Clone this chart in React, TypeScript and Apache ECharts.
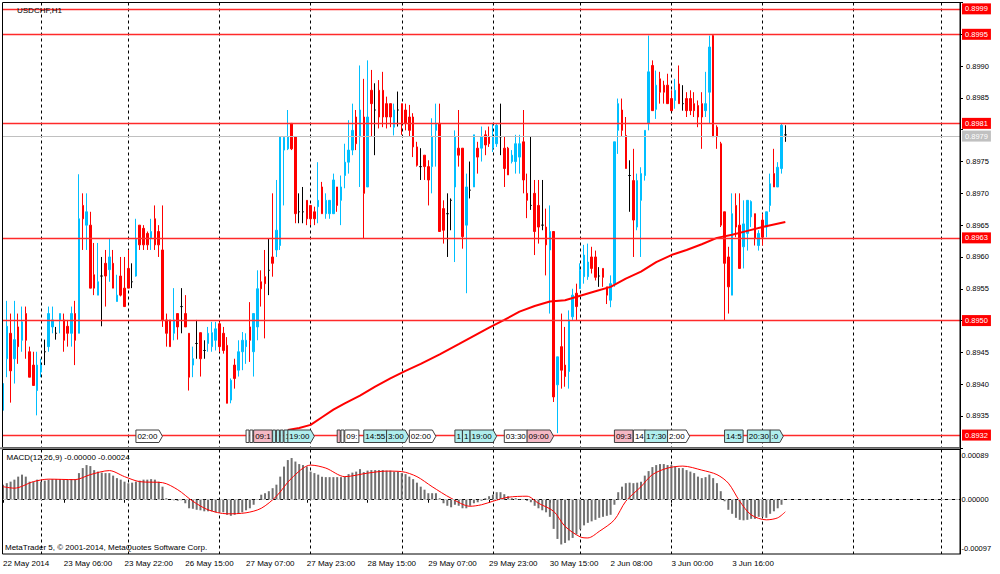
import React, { useEffect, useRef } from "react";
import * as echarts from "echarts";

const FONT = "Liberation Sans";

// time axis
const tickLabels = ["22 May 2014", "23 May 06:00", "23 May 22:00", "26 May 15:00", "27 May 07:00", "27 May 23:00", "28 May 15:00", "29 May 07:00", "29 May 23:00", "30 May 15:00", "2 Jun 08:00", "3 Jun 00:00", "3 Jun 16:00"];
const labelStep = 16;
const gridBars = [10, 33, 57, 81, 105, 129, 152, 176, 200, 224, 247];
const slotCount = 253;

// USDCHF H1 candles
const open = [
  0.89359, 0.8944, 0.8948, 0.8944, 0.8949, 0.89469, 0.89511, 0.89451, 0.8943, 0.8939,
  0.89419, 0.89451, 0.89459, 0.8949, 0.8948, 0.89501, 0.89501, 0.89491, 0.8948, 0.89511,
  0.8948, 0.89681, 0.8965, 0.8965, 0.89572, 0.8954, 0.8957, 0.8959, 0.8958, 0.8959,
  0.8953, 0.8957, 0.89551, 0.89582, 0.89561, 0.8957, 0.8965, 0.89645, 0.89637, 0.89629,
  0.8966, 0.8964, 0.89611, 0.89501, 0.89501, 0.8948, 0.89511, 0.89522, 0.89511, 0.8948,
  0.8943, 0.89464, 0.89481, 0.89453, 0.89464, 0.89459, 0.89469, 0.89495, 0.8948, 0.89461,
  0.89375, 0.8943, 0.89422, 0.89451, 0.89459, 0.8949, 0.89451, 0.8949, 0.89561, 0.89569,
  0.89579, 0.896, 0.89611, 0.89618, 0.89768, 0.8977, 0.8981, 0.89789, 0.89671, 0.89671,
  0.89689, 0.89681, 0.89671, 0.89679, 0.8971, 0.89668, 0.89668, 0.89668, 0.8971, 0.89689,
  0.89728, 0.89749, 0.89768, 0.8982, 0.89789, 0.8982, 0.8971, 0.89862, 0.89831, 0.89862,
  0.89862, 0.89841, 0.89841, 0.89804, 0.89831, 0.89841, 0.89831, 0.8982, 0.8982, 0.89773,
  0.89742, 0.8976, 0.89742, 0.89742, 0.89799, 0.8981, 0.89676, 0.89668, 0.89689, 0.8971,
  0.89771, 0.89771, 0.8965, 0.89705, 0.8971, 0.89771, 0.89771, 0.89792, 0.89789, 0.89771,
  0.89778, 0.89789, 0.89771, 0.89771, 0.8975, 0.8975, 0.89757, 0.89781, 0.897, 0.89681,
  0.897, 0.89681, 0.8965, 0.89647, 0.89611, 0.8964, 0.89399, 0.89459, 0.8943, 0.8942,
  0.89506, 0.89543, 0.8955, 0.89569, 0.89569, 0.896, 0.896, 0.8957, 0.89582, 0.89553,
  0.89532, 0.89558, 0.89799, 0.89831, 0.89791, 0.89728, 0.8972, 0.89647, 0.89689, 0.89728,
  0.8981, 0.89901, 0.89832, 0.8988, 0.8987, 0.8987, 0.89849, 0.89846, 0.89872, 0.89841,
  0.89849, 0.89849, 0.89841, 0.89838, 0.89841, 0.8983, 0.89859, 0.89948, 0.89804, 0.89778,
  0.89671, 0.896, 0.8954, 0.89681, 0.8965, 0.89616, 0.89637, 0.89663, 0.89668, 0.89618,
  0.89658, 0.89647, 0.89681, 0.89731, 0.8971, 0.89739, 0.89792,
];
const high = [
  0.89422, 0.89531, 0.89511, 0.89531, 0.89511, 0.89522, 0.89522, 0.89459, 0.89451, 0.89451,
  0.8944, 0.8947, 0.89522, 0.89522, 0.8949, 0.89511, 0.89511, 0.89501, 0.89522, 0.89531,
  0.8973, 0.897, 0.897, 0.89671, 0.89622, 0.89622, 0.896, 0.89611, 0.89629, 0.89611,
  0.89572, 0.896, 0.896, 0.89611, 0.8959, 0.8966, 0.8965, 0.8965, 0.8964, 0.8966,
  0.89681, 0.8965, 0.89681, 0.89511, 0.89501, 0.89551, 0.89511, 0.89551, 0.8954, 0.8948,
  0.89459, 0.89501, 0.89481, 0.89469, 0.8949, 0.89498, 0.89498, 0.89498, 0.8949, 0.89474,
  0.89409, 0.8944, 0.89469, 0.89482, 0.8948, 0.89529, 0.89511, 0.89579, 0.89579, 0.89611,
  0.89629, 0.897, 0.89721, 0.89789, 0.89789, 0.89831, 0.8981, 0.89789, 0.897, 0.8971,
  0.89689, 0.89681, 0.89679, 0.89749, 0.89718, 0.897, 0.89689, 0.89731, 0.8971, 0.89728,
  0.89778, 0.89815, 0.89841, 0.89831, 0.89901, 0.8988, 0.89909, 0.89894, 0.89873, 0.89878,
  0.89891, 0.89852, 0.89841, 0.89841, 0.8986, 0.89841, 0.89841, 0.89839, 0.89826, 0.89781,
  0.89771, 0.8976, 0.89752, 0.89818, 0.89841, 0.89841, 0.89689, 0.897, 0.89692, 0.89799,
  0.89831, 0.89771, 0.89731, 0.8975, 0.89792, 0.89781, 0.89805, 0.89799, 0.89805, 0.8981,
  0.8981, 0.89841, 0.89789, 0.89773, 0.89768, 0.89792, 0.89792, 0.89831, 0.89731, 0.89789,
  0.89721, 0.89721, 0.89721, 0.89676, 0.89681, 0.8964, 0.89443, 0.89511, 0.8949, 0.89516,
  0.8955, 0.89558, 0.8959, 0.89619, 0.89621, 0.89616, 0.8961, 0.89584, 0.89582, 0.89553,
  0.89571, 0.89781, 0.89849, 0.89849, 0.8982, 0.89752, 0.8977, 0.89731, 0.89741, 0.89799,
  0.89948, 0.89909, 0.89893, 0.89891, 0.89877, 0.89888, 0.89862, 0.8988, 0.89901, 0.8987,
  0.89859, 0.89862, 0.89859, 0.89846, 0.89859, 0.89891, 0.89948, 0.8995, 0.89807, 0.89781,
  0.89671, 0.89616, 0.897, 0.897, 0.897, 0.89689, 0.89689, 0.89689, 0.89668, 0.89642,
  0.89668, 0.89671, 0.89731, 0.8977, 0.89749, 0.8981, 0.89807,
];
const low = [
  0.89332, 0.89411, 0.89371, 0.89401, 0.89432, 0.89451, 0.8944, 0.89411, 0.89398, 0.89351,
  0.89411, 0.8943, 0.89451, 0.8948, 0.8947, 0.8948, 0.89451, 0.89459, 0.89459, 0.8943,
  0.8948, 0.89611, 0.89611, 0.89551, 0.8954, 0.8954, 0.89491, 0.89522, 0.89561, 0.89551,
  0.8953, 0.89538, 0.89522, 0.89551, 0.89551, 0.89569, 0.89611, 0.89611, 0.89611, 0.89611,
  0.89611, 0.896, 0.8949, 0.89459, 0.89459, 0.89469, 0.8947, 0.8948, 0.8949, 0.8939,
  0.89411, 0.8944, 0.89412, 0.8944, 0.89451, 0.89451, 0.89453, 0.89451, 0.89448, 0.8937,
  0.8937, 0.89393, 0.89412, 0.89422, 0.89432, 0.89435, 0.89412, 0.89469, 0.89522, 0.89472,
  0.8954, 0.89569, 0.896, 0.89611, 0.89681, 0.89768, 0.89768, 0.89653, 0.89653, 0.89653,
  0.8965, 0.8965, 0.8965, 0.89653, 0.89668, 0.8966, 0.8966, 0.89668, 0.89671, 0.8965,
  0.89708, 0.89731, 0.8976, 0.89768, 0.8971, 0.89629, 0.8971, 0.89789, 0.8976, 0.89802,
  0.89804, 0.89802, 0.89804, 0.89791, 0.89805, 0.89792, 0.89799, 0.89789, 0.89757, 0.89742,
  0.89721, 0.89721, 0.89681, 0.897, 0.89742, 0.8964, 0.89621, 0.896, 0.89642, 0.89592,
  0.89742, 0.89613, 0.89543, 0.89692, 0.8971, 0.89731, 0.8975, 0.8976, 0.89773, 0.89765,
  0.89773, 0.8976, 0.8971, 0.89729, 0.89747, 0.89731, 0.89731, 0.897, 0.89661, 0.89674,
  0.89603, 0.89621, 0.89642, 0.89571, 0.89511, 0.89372, 0.89323, 0.89393, 0.89396, 0.89393,
  0.89501, 0.89501, 0.8955, 0.89558, 0.89564, 0.89574, 0.89563, 0.89553, 0.89553, 0.89526,
  0.89521, 0.89553, 0.89762, 0.89789, 0.89739, 0.89671, 0.896, 0.89642, 0.896, 0.8972,
  0.89799, 0.8983, 0.89817, 0.89841, 0.89841, 0.89841, 0.8983, 0.89833, 0.89841, 0.8983,
  0.8982, 0.89823, 0.8982, 0.89804, 0.8977, 0.8982, 0.8981, 0.89789, 0.8977, 0.89647,
  0.895, 0.89511, 0.8954, 0.89631, 0.89582, 0.89582, 0.8961, 0.89647, 0.89618, 0.8961,
  0.89618, 0.89631, 0.89671, 0.8971, 0.8971, 0.89731, 0.89781,
];
const close = [
  0.89401, 0.89491, 0.89421, 0.8947, 0.89459, 0.89498, 0.89469, 0.89411, 0.89398, 0.8943,
  0.8943, 0.89451, 0.89511, 0.89501, 0.8948, 0.89511, 0.89469, 0.8948, 0.89511, 0.89469,
  0.8966, 0.8966, 0.89671, 0.89551, 0.89551, 0.89561, 0.8957, 0.8957, 0.896, 0.89551,
  0.8954, 0.8954, 0.89522, 0.89551, 0.89561, 0.89629, 0.89619, 0.89619, 0.89619, 0.8964,
  0.89619, 0.89619, 0.89501, 0.8948, 0.89459, 0.89501, 0.8949, 0.89522, 0.8949, 0.89411,
  0.8944, 0.89464, 0.8944, 0.89453, 0.8948, 0.89481, 0.89487, 0.89459, 0.89453, 0.8937,
  0.89406, 0.89409, 0.89451, 0.89469, 0.89469, 0.89469, 0.89511, 0.8955, 0.8955, 0.89558,
  0.89579, 0.8959, 0.89642, 0.89789, 0.89788, 0.89789, 0.8977, 0.89668, 0.89671, 0.89671,
  0.8966, 0.8966, 0.8966, 0.89689, 0.89668, 0.89689, 0.89689, 0.89721, 0.89681, 0.8971,
  0.89749, 0.89768, 0.89799, 0.89778, 0.89831, 0.897, 0.8982, 0.89841, 0.89831, 0.8982,
  0.8982, 0.8982, 0.8982, 0.89831, 0.89831, 0.8981, 0.8981, 0.89799, 0.89773, 0.89744,
  0.89742, 0.89742, 0.89721, 0.89789, 0.8981, 0.8964, 0.89642, 0.89668, 0.89689, 0.89789,
  0.8976, 0.89632, 0.8971, 0.89705, 0.89792, 0.89757, 0.89789, 0.89776, 0.89778, 0.89789,
  0.89807, 0.89789, 0.89739, 0.89729, 0.8976, 0.89778, 0.89778, 0.89721, 0.89689, 0.89681,
  0.8964, 0.89647, 0.8965, 0.89619, 0.8964, 0.8938, 0.89443, 0.89422, 0.89412, 0.89501,
  0.8954, 0.89522, 0.89579, 0.89603, 0.89592, 0.89582, 0.89568, 0.8957, 0.89568, 0.8954,
  0.89558, 0.89781, 0.89841, 0.89799, 0.89739, 0.89728, 0.89658, 0.8972, 0.89731, 0.89799,
  0.89891, 0.8983, 0.8987, 0.89859, 0.89859, 0.89841, 0.8983, 0.89862, 0.89841, 0.89841,
  0.8983, 0.8983, 0.8983, 0.8982, 0.8982, 0.89841, 0.8993, 0.89789, 0.89789, 0.8965,
  0.8959, 0.89553, 0.89668, 0.89647, 0.89582, 0.89652, 0.89689, 0.89687, 0.89629, 0.89637,
  0.89631, 0.89671, 0.89715, 0.8971, 0.89741, 0.89807, 0.89792,
];

// moving average readings (bar index -> value)
const maBars = [75, 78, 81, 84, 87, 90, 94, 98, 102, 106, 110, 115, 120, 124, 128, 132, 136, 140, 144, 148, 152, 156, 160, 164, 168, 172, 176, 180, 184, 188, 192, 196, 200, 206];
const maValues = [0.89328, 0.89331, 0.89336, 0.89348, 0.8936, 0.8937, 0.89382, 0.89396, 0.89409, 0.89421, 0.89432, 0.89447, 0.89463, 0.89476, 0.89489, 0.89501, 0.89514, 0.89523, 0.8953, 0.89532, 0.89539, 0.89546, 0.89553, 0.89566, 0.89577, 0.89592, 0.89603, 0.89611, 0.8962, 0.8963, 0.89635, 0.89641, 0.89647, 0.89655];

// horizontal levels
const levels = [0.8999, 0.8995, 0.8981, 0.8963, 0.895, 0.8932];
const bidPrice = 0.8979;

// MACD
const macdHist = [
  0.0003, 0.00033, 0.00036, 0.0004, 0.00046, 0.0005, 0.00046, 0.00036, 0.00036, 0.0004, 0.00036, 0.00038, 0.0004, 0.00041, 0.00041, 0.00041, 0.0004, 0.0004, 0.00041, 0.00041,
  0.00053, 0.00063, 0.00069, 0.00067, 0.00059, 0.00056, 0.00054, 0.00053, 0.00053, 0.00048, 0.00043, 0.0004, 0.00036, 0.00033, 0.00034, 0.00036, 0.00038, 0.0004, 0.0004, 0.00041,
  0.0004, 0.00036, 0.00026, 0.00003, 0.0, -0.00001, -0.00002, -0.00001, -0.00007, -0.00017, -0.00018, -0.0002, -0.00021, -0.00023, -0.00023, -0.00023, -0.00025, -0.00025, -0.00025, -0.0003,
  -0.00032, -0.0003, -0.00028, -0.00025, -0.00021, -0.00017, -0.0001, 0.0, 0.0001, 0.00013, 0.00017, 0.00023, 0.0003, 0.00046, 0.00066, 0.00079, 0.00083, 0.00076, 0.00071, 0.00069,
  0.00066, 0.00056, 0.00053, 0.0005, 0.00046, 0.00045, 0.00045, 0.00045, 0.00045, 0.00045, 0.00046, 0.00051, 0.00054, 0.00056, 0.00061, 0.00055, 0.00058, 0.00059, 0.00059, 0.00059,
  0.00059, 0.00058, 0.00058, 0.00056, 0.00056,
  0.00053, 0.00051, 0.00046, 0.00041, 0.00034, 0.00026, 0.0002, 0.00013, 0.00013, 0.00013,
  0.00003, -0.00007, -0.00012, -0.00015, -0.0001, -0.00012, -0.00017, -0.00017, -0.00012, -0.00007,
  -0.00005, -0.00002, 0.00003, 0.00007, 0.0001, 0.00015, 0.00015, 0.00011, 0.00007, 0.00003,
  0.00003, 0.00001, 0.00001, -0.00002, -0.00005, -0.00012, -0.00017, -0.00021, -0.00025, -0.00034,
  -0.00058, -0.00078, -0.00089, -0.00086, -0.00081, -0.00076, -0.00069, -0.00059, -0.00051, -0.00046,
  -0.00043, -0.0004, -0.00036, -0.00034, -0.00032, -0.0003, -0.0001, 0.00015, 0.00026, 0.00033,
  0.00034, 0.00033, 0.00034, 0.00036, 0.00048, 0.00057, 0.00065, 0.00069, 0.00071, 0.00071,
  0.00069, 0.00069, 0.00066, 0.00063, 0.00063, 0.00059, 0.00056, 0.00053, 0.00046, 0.00043,
  0.00045, 0.0005, 0.00043, 0.00033, 0.00017, -0.00003, -0.0002, -0.00028, -0.00036, -0.0004,
  -0.00041, -0.0004, -0.00038, -0.00038, -0.00034, -0.00034, -0.00036, -0.00028, -0.00023, -0.00017,
  -0.0001, 0.0,
];
const signalBars = [0, 3, 8, 12, 19, 23, 28, 32, 36, 42, 46, 50, 54, 59, 64, 68, 72, 76, 81, 85, 90, 96, 101, 105, 109, 113, 118, 123, 126, 129, 133, 138, 141, 145, 148, 152, 154, 157, 161, 164, 168, 171, 175, 179, 184, 188, 191, 194, 197, 201, 204, 206];
const signalValues = [0.00026, 0.00023, 0.00036, 0.00041, 0.0004, 0.0005, 0.00058, 0.00046, 0.00036, 0.00034, 0.0002, -0.00003, -0.0002, -0.00028, -0.00026, -0.00017, 0.00007, 0.00043, 0.00069, 0.00063, 0.00046, 0.00053, 0.00057, 0.00056, 0.00046, 0.00026, 0.00003, -0.00013, -0.0001, -0.00003, 0.00005, 0.00007, -0.00007, -0.00023, -0.00053, -0.00074, -0.00076, -0.00063, -0.0004, -0.00003, 0.00026, 0.0005, 0.00063, 0.00067, 0.00059, 0.0005, 0.00033, -0.00003, -0.0003, -0.0004, -0.00036, -0.00024];
const macdLabels = [0.00089, 0, -0.00097];

// calendar events at the bottom of the price window
const eventBars = [35, 64, 65, 66, 71, 72, 73, 74, 75, 88, 89, 90, 95, 101, 107, 119, 121, 123, 132, 138, 161, 166, 169, 175, 190, 196, 202];
const eventTexts = ["02:00", "", "", "09:1", "", "", "", "1", "19:00", "", "", "09:", "14:55", "3:00", "02:00", "1", "1", "19:00", "03:30", "09:00", "09:3", "14", "17:30", "2:00", "14:5", "20:30", ":0"];
const eventKinds = ["w", "w", "w", "p", "c", "c", "c", "c", "c", "p", "w", "w", "c", "c", "w", "c", "c", "c", "w", "p", "p", "w", "c", "w", "c", "c", "c"];
const eventArrows = [1, 0, 0, 0, 0, 0, 0, 0, 1, 0, 0, 0, 0, 1, 1, 0, 0, 1, 0, 1, 0, 0, 0, 1, 0, 0, 1];

const kindFill: Record<string, string> = { w: "#ffffff", c: "#b0eeee", p: "#f5b8c4" };

function textW(s: string) {
  let w = 0;
  for (const c of s) w += c === ":" ? 2.22 : 4.45;
  return w;
}

export default function App() {
  const ref = useRef<HTMLDivElement>(null);

  useEffect(() => {
    const el = ref.current!;
    const chart = echarts.init(el, null, { renderer: "svg" });

    const categories = Array.from({ length: slotCount }, (_, i) => String(i));
    const labelShown = (i: number) => i % labelStep === 0 && i / labelStep < tickLabels.length;
    const gridShown = (i: number) => gridBars.indexOf(i) >= 0;

    const candleData = open.map((o, i) => [o, close[i], low[i], high[i]]);
    const maData: (number | null)[] = open.map(() => null);
    maBars.forEach((b, k) => (maData[b] = maValues[k]));
    const sigData: (number | null)[] = open.map(() => null);
    signalBars.forEach((b, k) => (sigData[b] = signalValues[k]));

    const font8 = `8px "${FONT}"`;
    const hiddenY = ["0.8930", "0.8950", "0.8980", "0.8995", "0.9000"];

    const splitV = {
      show: true,
      interval: gridShown,
      lineStyle: { color: "#000", type: [3, 3], width: 1 },
    };

    const option: any = {
      animation: false,
      backgroundColor: "#ffffff",
      textStyle: { fontFamily: FONT },
      grid: [
        { left: 3, right: 40, top: 2.5, height: 445.3 },
        { left: 3, right: 40, top: 449.5, height: 104.5 },
      ],
      xAxis: [
        {
          type: "category",
          gridIndex: 0,
          data: categories,
          boundaryGap: false,
          axisLine: { show: false },
          axisTick: { show: false },
          axisLabel: { show: false },
          splitLine: splitV,
        },
        {
          type: "category",
          gridIndex: 1,
          data: categories,
          boundaryGap: false,
          axisLine: { show: true, lineStyle: { color: "#000" } },
          axisTick: { show: true, interval: labelShown, length: 3, lineStyle: { color: "#000" } },
          axisLabel: {
            show: true,
            interval: labelShown,
            formatter: (_v: string, i: number) => tickLabels[i / labelStep] ?? "",
            align: "left",
            fontSize: 8,
            color: "#000",
            margin: 5,
          },
          splitLine: splitV,
        },
      ],
      yAxis: [
        {
          type: "value",
          gridIndex: 0,
          position: "right",
          min: 0.893,
          max: 0.9,
          interval: 0.0005,
          axisLine: { show: true, lineStyle: { color: "#000" } },
          axisTick: { show: true, length: 3, lineStyle: { color: "#000" } },
          axisLabel: {
            fontSize: 7.5,
            color: "#000",
            margin: 6,
            formatter: (v: number) => {
              const s = v.toFixed(4);
              return hiddenY.indexOf(s) >= 0 ? "" : s;
            },
          },
          splitLine: { show: false },
        },
        {
          type: "value",
          gridIndex: 1,
          position: "right",
          min: -0.00108,
          max: 0.001,
          axisLine: { show: true, lineStyle: { color: "#000" } },
          axisTick: { show: false },
          axisLabel: { show: false },
          splitLine: { show: false },
        },
      ],
      series: [
        {
          type: "candlestick",
          xAxisIndex: 0,
          yAxisIndex: 0,
          data: candleData,
          barWidth: 2,
          itemStyle: {
            color: "#00bfff",
            color0: "#ff0000",
            borderColor: "#00bfff",
            borderColor0: "#ff0000",
            borderColorDoji: "#000000",
            borderWidth: 1,
          },
          z: 3,
        },
        {
          type: "line",
          xAxisIndex: 0,
          yAxisIndex: 0,
          data: maData,
          connectNulls: true,
          symbol: "none",
          showSymbol: false,
          clip: false,
          lineStyle: { color: "#ff0000", width: 2 },
          z: 4,
          markLine: {
            silent: true,
            precision: 6,
            symbol: ["none", "none"],
            animation: false,
            label: {
              show: true,
              position: "end",
              distance: 2,
              color: "#ffffff",
              backgroundColor: "#ff0000",
              padding: [2, 3, 1, 3],
              fontSize: 7.5,
              fontFamily: FONT,
            },
            data: [
              {
                yAxis: bidPrice,
                lineStyle: { color: "#c0c0c0", width: 1, type: "solid" },
                label: { formatter: bidPrice.toFixed(4), backgroundColor: "#c0c0c0" },
              },
              ...levels.map((v) => ({
                yAxis: v,
                lineStyle: { color: "#ff2a2a", width: 1.3, type: "solid" },
                label: { formatter: v.toFixed(4) },
              })),
            ],
          },
        },
        {
          type: "custom",
          xAxisIndex: 0,
          yAxisIndex: 0,
          clip: false,
          z: 5,
          data: eventBars.map((b) => [b, levels[5]]),
          encode: { x: 0, y: 1 },
          renderItem: (params: any, api: any) => {
            const k = params.dataIndex;
            const x = api.coord([eventBars[k], levels[5]])[0];
            const cs = params.coordSys;
            const y = cs.y + cs.height - 17.8;
            const h = 12.5;
            const txt = eventTexts[k];
            const w = txt ? textW(txt) + 3 : 3;
            const pts = eventArrows[k]
              ? [[x, y], [x + w, y], [x + w + 3.5, y + h / 2], [x + w, y + h], [x, y + h]]
              : [[x, y], [x + w, y], [x + w, y + h], [x, y + h]];
            return {
              type: "group",
              children: [
                {
                  type: "polygon",
                  shape: { points: pts },
                  style: { fill: kindFill[eventKinds[k]], stroke: "#404040", lineWidth: 1 },
                },
                {
                  type: "text",
                  style: { text: txt, x: x + 1.5, y: y + h / 2 + 0.5, verticalAlign: "middle", fill: "#000", font: font8 },
                },
              ],
            };
          },
        },
        {
          type: "bar",
          xAxisIndex: 1,
          yAxisIndex: 1,
          data: macdHist,
          barWidth: 2,
          itemStyle: { color: "#707070" },
          z: 2,
          markLine: {
            silent: true,
            precision: 8,
            symbol: ["none", "none"],
            animation: false,
            label: { show: true, position: "end", distance: 1.5, color: "#000", fontSize: 7.5, fontFamily: FONT },
            data: macdLabels.map((v) => ({
              yAxis: v,
              lineStyle: v === 0 ? { color: "#c0c0c0", type: [4, 3], width: 1 } : { color: "rgba(0,0,0,0)", width: 0 },
              label: { formatter: v === 0 ? "0.00000" : v.toFixed(5), color: "#000" },
            })),
          },
        },
        {
          type: "line",
          xAxisIndex: 1,
          yAxisIndex: 1,
          data: sigData,
          connectNulls: true,
          smooth: 0.3,
          symbol: "none",
          showSymbol: false,
          lineStyle: { color: "#ff0000", width: 1 },
          z: 3,
        },
      ],
      graphic: [
        { type: "rect", silent: true, z: 100, shape: { x: 2.5, y: 2.5, width: 957.5, height: 445 }, style: { fill: "none", stroke: "#000", lineWidth: 1 } },
        { type: "line", silent: true, z: 100, shape: { x1: 0, y1: 448.3, x2: 960, y2: 448.3 }, style: { stroke: "#808080", lineWidth: 2 } },
        { type: "rect", silent: true, z: 100, shape: { x: 2.5, y: 449.5, width: 957.5, height: 104.5 }, style: { fill: "none", stroke: "#000", lineWidth: 1 } },
        { type: "text", silent: true, z: 100, x: 17, y: 10, style: { text: "USDCHF,H1", font: font8, fill: "#000", verticalAlign: "middle" } },
        { type: "text", silent: true, z: 100, x: 6.5, y: 457.5, style: { text: "MACD(12,26,9) -0.00000 -0.00024", font: font8, fill: "#000", verticalAlign: "middle" } },
        { type: "text", silent: true, z: 100, x: 5, y: 547.5, style: { text: "MetaTrader 5, © 2001-2014, MetaQuotes Software Corp.", font: font8, fill: "#000", verticalAlign: "middle" } },
      ],
    };

    chart.setOption(option);
    return () => chart.dispose();
  }, []);

  return (
    <div
      ref={ref}
      style={{ position: "fixed", left: 0, top: 0, width: 1000, height: 574, background: "#ffffff" }}
    />
  );
}
